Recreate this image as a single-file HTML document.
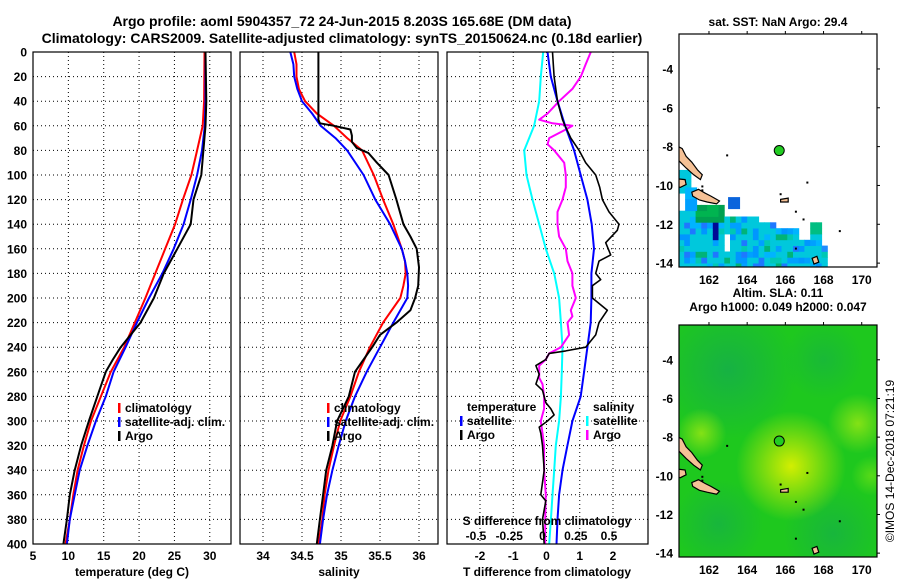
<!DOCTYPE html>
<html><head><meta charset="utf-8"><title>Argo profile</title>
<style>
html,body{margin:0;padding:0;background:#fff;}
svg{display:block;font-family:"Liberation Sans",Arial,sans-serif;font-weight:bold;}
text{fill:#000;}
</style></head>
<body>
<svg id="chart" width="900" height="580" viewBox="0 0 900 580" xmlns="http://www.w3.org/2000/svg">
<text x="342" y="26" font-size="14" text-anchor="middle">Argo profile: aoml 5904357_72 24-Jun-2015 8.203S 165.68E (DM data)</text>
<text x="342" y="43" font-size="14" text-anchor="middle">Climatology: CARS2009. Satellite-adjusted climatology: synTS_20150624.nc (0.18d earlier)</text>
<g id="p1"></g>
<g id="p2"></g>
<g id="p3"></g>
<g id="m1"></g>
<g id="m2"></g>
<text transform="translate(894,461) rotate(-90)" font-size="12" font-weight="normal" text-anchor="middle">©IMOS 14-Dec-2018 07:21:19</text>
</svg>
<script>
// ---------- data ----------
const tDepth = [0,40,60,80,100,120,140,160,180,200,220,240,260,280,300,320,340,360,380,400];
const tClim  = [29.25,29.2,29.0,28.2,27.4,26.2,25.1,23.7,22.3,20.9,19.4,17.9,16.0,14.6,13.2,12.2,11.3,10.7,10.2,9.6];
const tSat   = [29.4,29.4,29.3,28.9,28.2,27.3,26.3,24.9,23.3,21.4,19.7,18.1,16.4,15.3,13.9,12.7,11.6,10.9,10.2,9.8];
const tArgoDepth = [0,40,60,80,100,120,140,160,180,200,220,240,250,260,280,300,320,340,360,380,400];
const tArgo  = [29.4,29.5,29.4,29.1,28.8,27.7,27.3,25.4,23.5,22.1,20.2,17.4,16.3,15.3,14.1,12.9,11.8,10.9,10.2,9.8,9.3];

const sDepth = [0,10,20,30,40,50,60,70,80,100,120,140,160,170,180,190,200,220,240,260,280,300,320,340,360,380,400];
const sClim  = [34.40,34.43,34.43,34.46,34.54,34.69,34.91,35.08,35.27,35.42,35.54,35.67,35.78,35.82,35.83,35.80,35.76,35.54,35.37,35.23,35.12,34.99,34.91,34.84,34.79,34.76,34.71];
const sSat   = [34.35,34.39,34.40,34.44,34.50,34.63,34.74,34.93,35.08,35.29,35.44,35.63,35.78,35.82,35.85,35.86,35.85,35.67,35.50,35.33,35.18,35.06,34.97,34.89,34.82,34.77,34.73];
const sArgoDepth = [0,55,58,60,63,68,73,78,82,90,100,120,140,150,160,175,190,200,210,220,230,240,250,260,280,300,320,340,360,380,400];
const sArgo  = [34.71,34.71,34.73,34.91,35.12,35.14,35.14,35.20,35.35,35.46,35.61,35.71,35.80,35.89,35.97,36.0,35.99,35.95,35.89,35.71,35.50,35.40,35.29,35.18,35.10,34.95,34.89,34.81,34.77,34.73,34.69];

const dDepth = [0,20,40,60,80,100,120,140,160,180,200,220,240,260,280,300,320,340,360,380,400];
const dTSat  = [0.03,0.13,0.33,0.56,0.83,1.03,1.23,1.36,1.43,1.35,1.35,1.33,1.23,1.13,1.03,0.78,0.63,0.48,0.38,0.33,0.30];
const dSSat  = [-0.025,-0.043,-0.055,-0.093,-0.168,-0.15,-0.105,-0.055,-0.005,0.058,0.095,0.108,0.12,0.115,0.108,0.095,0.07,0.058,0.045,0.033,0.02];
const dTArgoDepth = [0,20,40,55,60,70,80,90,100,110,120,130,140,145,155,165,170,180,185,190,200,210,220,230,240,243,245,250,255,262,270,275,285,290,295,300,305,310,320,340,360,365,380,400];
const dTArgo = [0.18,0.23,0.33,0.48,0.56,0.73,0.98,1.18,1.48,1.60,1.68,1.88,2.18,2.13,1.78,1.93,1.58,1.48,1.63,1.38,1.38,1.83,1.58,1.48,1.18,0.58,0.08,-0.02,-0.32,-0.22,-0.32,-0.12,-0.02,0.13,0.23,0.03,-0.22,-0.17,-0.12,-0.07,-0.17,-0.02,-0.12,-0.07];
const dSArgoDepth = [0,10,20,30,40,50,55,58,60,63,70,75,80,90,100,110,120,130,140,150,160,170,180,190,200,210,215,220,230,240,245,250,255,265,270,280,290,300,310,320,340,360,380,400];
const dSArgo = [0.333,0.295,0.258,0.195,0.095,0.008,-0.055,0.045,0.195,0.145,0.02,0.008,0.058,0.133,0.145,0.145,0.12,0.083,0.083,0.095,0.145,0.158,0.195,0.195,0.22,0.183,0.195,0.158,0.17,0.108,0.02,-0.005,-0.055,-0.055,-0.03,-0.018,-0.018,-0.043,-0.03,-0.018,-0.018,-0.005,-0.01,-0.01];

const depthTicks = [0,20,40,60,80,100,120,140,160,180,200,220,240,260,280,300,320,340,360,380,400];
const tTicks = [5,10,15,20,25,30];
const sTicks = [34,34.5,35,35.5,36];
const sTickLabels = ["34","34.5","35","35.5","36"];
const dTicks = [-2,-1,0,1,2];
const dSTickLabels = ["-0.5","-0.25","0","0.25","0.5"];
const lonTicks = [162,164,166,168,170];
const latTicks = [-4,-6,-8,-10,-12,-14];
const argoLon = 165.68, argoLat = -8.203;

// ---------- helpers ----------
const NS = "http://www.w3.org/2000/svg";
function mk(parent, tag, attrs, txt){
  const e = document.createElementNS(NS, tag);
  for (const k in attrs) e.setAttribute(k, attrs[k]);
  if (txt !== undefined) e.textContent = txt;
  parent.appendChild(e);
  return e;
}
const Y0 = 52, Y1 = 544;
function yD(d){ return Y0 + (Y1 - Y0) * d / 400; }
function lin(d0,d1,r0,r1){ return v => r0 + (v - d0) * (r1 - r0) / (d1 - d0); }

function panel(g, x0, x1, xf, ticks, tickLabels, showY){
  for (const d of depthTicks){
    if (d===0 || d===400) continue;
    const l = mk(g,'line',{x1:x0,x2:x1,y1:yD(d),y2:yD(d),stroke:'#000','stroke-width':1,'stroke-dasharray':'1 3'});
    
    
  }
  ticks.forEach((t,i)=>{
    const x = xf(t);
    if (x > x0+2 && x < x1-2){
      const l = mk(g,'line',{x1:x,x2:x,y1:Y0,y2:Y1,stroke:'#000','stroke-width':1,'stroke-dasharray':'1 3'});
      
      
    }
    if (tickLabels){
      const tx = mk(g,'text',{x:x,y:560,'font-size':12,'text-anchor':'middle'},tickLabels[i]);
      
      
    }
  });
  if (showY){
    for (const d of depthTicks){
      const tx = mk(g,'text',{x:27,y:yD(d)+4.5,'font-size':12,'text-anchor':'end'},String(d));
      
      
    }
  }
}
function frame(g,x0,x1){
  const r = mk(g,'rect',{x:x0,y:Y0,width:x1-x0,height:Y1-Y0,fill:'none',stroke:'#000','stroke-width':1.2});
  
  
}
function series(g, xs, ds, xf, color, name, w){
  const pts = xs.map((v,i)=> xf(v).toFixed(1)+','+yD(ds[i]).toFixed(1)).join(' ');
  const p = mk(g,'polyline',{points:pts,fill:'none',stroke:color,'stroke-width':w||2,'stroke-linejoin':'round'});
  
  
}
function legendEntry(g,x,y,color,label){
  const r = mk(g,'rect',{x:x,y:y-9,width:2.5,height:10,fill:color});
  
  
  const t = mk(g,'text',{x:x+7,y:y,'font-size':12},label);
  
  
}
function axisTitle(g,x,label){
  const t = mk(g,'text',{x:x,y:576,'font-size':12,'text-anchor':'middle'},label);
  
  
}

// ---------- panel 1: temperature ----------
const g1 = document.getElementById('p1');
const xT = lin(5,33,33,231);
panel(g1,33,231,xT,tTicks,tTicks.map(String),true);
series(g1,tClim,tDepth,xT,'#ff0000','climatology-temp-line');
series(g1,tSat,tDepth,xT,'#0000ff','satellite-temp-line');
series(g1,tArgo,tArgoDepth,xT,'#000000','argo-temp-line');
legendEntry(g1,118,412,'#ff0000','climatology');
legendEntry(g1,118,426,'#0000ff','satellite-adj. clim.');
legendEntry(g1,118,440,'#000000','Argo');
frame(g1,33,231);
axisTitle(g1,132,'temperature (deg C)');

// ---------- panel 2: salinity ----------
const g2 = document.getElementById('p2');
const xS = lin(34,36,263,419);
panel(g2,240,438,xS,sTicks,sTickLabels,false);
series(g2,sClim,sDepth,xS,'#ff0000','climatology-salinity-line');
series(g2,sSat,sDepth,xS,'#0000ff','satellite-salinity-line');
series(g2,sArgo,sArgoDepth,xS,'#000000','argo-salinity-line');
legendEntry(g2,327,412,'#ff0000','climatology');
legendEntry(g2,327,426,'#0000ff','satellite-adj. clim.');
legendEntry(g2,327,440,'#000000','Argo');
frame(g2,240,438);
axisTitle(g2,339,'salinity');

// ---------- panel 3: differences ----------
const g3 = document.getElementById('p3');
const xDT = lin(-2,2,480,613);
const xDS = s => xDT(s*4);
panel(g3,447,648,xDT,dTicks,dTicks.map(String),false);
series(g3,dSSat,dDepth,xDS,'#00ffff','salinity-satellite-diff-line');
series(g3,dSArgo,dSArgoDepth,xDS,'#ff00ff','salinity-argo-diff-line');
series(g3,dTSat,dDepth,xDT,'#0000ff','temperature-satellite-diff-line');
series(g3,dTArgo,dTArgoDepth,xDT,'#000000','temperature-argo-diff-line',1.6);
{
  const t = mk(g3,'text',{x:467,y:411,'font-size':12},'temperature');
  
  
  const t2 = mk(g3,'text',{x:593,y:411,'font-size':12},'salinity');
  
  
}
legendEntry(g3,460,425,'#0000ff','satellite');
legendEntry(g3,460,439,'#000000','Argo');
legendEntry(g3,586,425,'#00ffff','satellite');
legendEntry(g3,586,439,'#ff00ff','Argo');
{
  const t = mk(g3,'text',{x:547,y:525,'font-size':12,'text-anchor':'middle'},'S difference from climatology');
  
  
  dTicks.forEach((v,i)=>{
    const tx = mk(g3,'text',{x:xDT(v)-4,y:540,'font-size':12,'text-anchor':'middle'},dSTickLabels[i]);
    
    
  });
}
frame(g3,447,648);
axisTitle(g3,547,'T difference from climatology');

// ---------- maps ----------
function hash(i,j){ let h = (i*73856093) ^ (j*19349663); h = (h ^ (h>>>13)) * 1274126177; return ((h ^ (h>>>16))>>>0) % 1000 / 1000; }
function mapFrame(g,top,bot,titleLines,fill){
  const x0=679,x1=877;
  const lonF = lin(160.43,170.8,x0,x1);
  const latF = lin(-2.2,-14.2,top,bot);
  const cp = 'clip'+top;
  const defs = mk(g,'defs',{});
  const c = mk(defs,'clipPath',{id:cp});
  mk(c,'rect',{x:x0,y:top,width:x1-x0,height:bot-top});
  const inner = mk(g,'g',{'clip-path':'url(#'+cp+')'});
  
  
  fill(inner,lonF,latF,x0,x1,top,bot);
  const isl = [
    [[160.3,-7.95],[160.6,-8.1],[160.8,-8.5],[161.1,-8.8],[161.4,-9.2],[161.65,-9.45],[161.55,-9.7],[161.2,-9.45],[160.8,-9.1],[160.5,-8.8],[160.3,-8.6]],
    [[160.3,-9.65],[160.75,-9.7],[160.8,-9.95],[160.5,-10.1],[160.3,-10.05]],
    [[161.1,-10.35],[161.45,-10.2],[161.8,-10.4],[162.1,-10.55],[162.55,-10.8],[162.4,-10.95],[161.9,-10.85],[161.5,-10.75],[161.15,-10.55]],
    [[165.75,-10.72],[166.15,-10.65],[166.15,-10.85],[165.75,-10.85]],
    [[167.4,-13.75],[167.65,-13.65],[167.75,-13.95],[167.5,-14.05]]
  ];
  isl.forEach(poly=>{
    const p = mk(inner,'polygon',{points:poly.map(q=>lonF(q[0]).toFixed(1)+','+latF(q[1]).toFixed(1)).join(' '),fill:'#f5c196',stroke:'#000','stroke-width':1.2});
    
    
  });
  [[162.9,-8.4],[167.1,-9.8],[165.7,-10.4],[166.5,-11.3],[166.9,-11.7],[168.8,-12.3],[166.5,-13.2],[161.6,-10.0],[161.6,-10.2]].forEach(q=>{
    const r = mk(inner,'rect',{x:lonF(q[0]),y:latF(q[1]),width:2,height:2,fill:'#000'});
    
    
  });
  const dot = mk(g,'circle',{cx:lonF(argoLon),cy:latF(argoLat),r:5,fill:'#22cc22',stroke:'#000','stroke-width':1});
  
  
  const fr = mk(g,'rect',{x:x0,y:top,width:x1-x0,height:bot-top,fill:'none',stroke:'#000','stroke-width':1.2});
  
  
  lonTicks.forEach(v=>{
    mk(g,'line',{x1:lonF(v),x2:lonF(v),y1:top,y2:top-3,stroke:'#000'});
    const t = mk(g,'text',{x:lonF(v),y:bot+17,'font-size':12,'text-anchor':'middle'},String(v));
    
    
  });
  latTicks.forEach(v=>{
    mk(g,'line',{x1:x1,x2:x1+3,y1:latF(v),y2:latF(v),stroke:'#000'});
    const t = mk(g,'text',{x:673,y:latF(v)+4.5,'font-size':12,'text-anchor':'end'},String(v));
    
    
  });
  titleLines.forEach((s,i)=>{
    const t = mk(g,'text',{x:778,y:(titleLines.length===1?top-8:top-28+i*14),'font-size':12,'text-anchor':'middle'},s);
    
    
  });
}
// SST map
const sstCols = ['#00c8dc','#00c8dc','#00c8dc','#00b4ff','#00c8dc','#0096ff','#00c8b4','#00b478','#00c8dc','#1e78ff','#00a0ff','#00c8dc'];
function sstNorth(lon){
  if (lon<161.2) return -11.3;
  if (lon<162.7) return -11.0;
  if (lon<164.5) return -11.5;
  if (lon<165.5) return -11.9;
  if (lon<166.7) return -12.2;
  if (lon<167.2) return -12.8;
  if (lon<167.8) return -11.8;
  if (lon<168.3) return -12.9;
  return -99;
}
mapFrame(document.getElementById('m1'),34,267,['sat. SST: NaN Argo: 29.4'],(g,lonF,latF)=>{
  const step=0.3;
  for (let i=0;i<28;i++){
    for (let j=0;j<40;j++){
      const lon=160.4+i*step, lat=-14.3+j*step;
      if (lat+step > sstNorth(lon+step/2)+0.01) continue;
      let h=hash(i,j); let col=sstCols[Math.floor(h*sstCols.length)];
      if (lat>-12.1 && lon<162.6 && lon>161.2) col = h<0.5?'#00b450':'#00a050';
      if (lon>161.9 && lon<162.5 && lat>-12.9 && lat<-11.9) col='#000a96';
      if (lon>167.2 && lon<167.8 && lat>-12.8) col='#00be82';
      if (lon>167.8 && lat>-13.6) col='#1e8cff';
      if (lon>162.6 && lon<163.0 && lat>-13.6 && lat<-12.6) continue;
      const r = mk(g,'rect',{x:lonF(lon).toFixed(1),y:latF(lat+step).toFixed(1),width:6.2,height:6.2,fill:col});
      
      
    }
  }
  [[160.45,-9.2,'#00c8dc'],[160.45,-9.8,'#00c8dc'],[160.75,-10.1,'#00b4ff'],[160.75,-10.7,'#00a0ff'],[163.0,-10.6,'#0a64dc']].forEach(c=>{
    const b = mk(g,'rect',{x:lonF(c[0]),y:latF(c[1]),width:12,height:12,fill:c[2]});
    
    
  });
});
// SLA map
mapFrame(document.getElementById('m2'),325,557,['Altim. SLA: 0.11','Argo h1000: 0.049 h2000: 0.047'],(g,lonF,latF,x0,x1,top,bot)=>{
  const defs = mk(g,'defs',{});
  const blobs = [
    ['b4',163,-4.5,70,'#14aa50',0.75],['b5',168.5,-13,50,'#14aa50',0.6],['b6',162.5,-12.5,45,'#14aa50',0.6],['b8',168,-4,40,'#14aa50',0.5],
    ['b1',166.3,-9.5,55,'#dcf000',0.95],['b2',161.6,-7.8,25,'#96e614',0.85],['b3',169.8,-7.3,30,'#96e614',0.85],['b7',170.5,-10,20,'#7ee614',0.6]
  ];
  const base = mk(g,'rect',{x:x0,y:top,width:x1-x0,height:bot-top,fill:'#1ec81e'});
  
  
  blobs.forEach(b=>{
    const rg = mk(defs,'radialGradient',{id:b[0]});
    mk(rg,'stop',{offset:'0','stop-color':b[4],'stop-opacity':b[5]});
    mk(rg,'stop',{offset:'1','stop-color':b[4],'stop-opacity':0});
    const c = mk(g,'circle',{cx:lonF(b[1]),cy:latF(b[2]),r:b[3],fill:'url(#'+b[0]+')'});
    
    
  });
});
</script>
</body></html>
